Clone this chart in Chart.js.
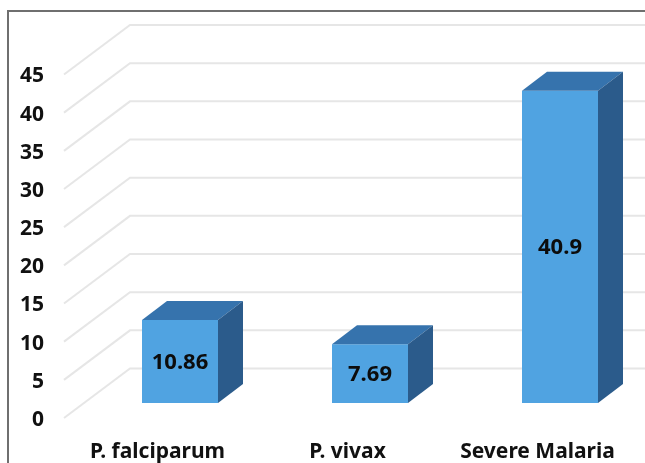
<!DOCTYPE html>
<html>
<head>
<meta charset="utf-8">
<style>
html,body{margin:0;padding:0;background:#fff;}
#wrap{position:relative;width:645px;height:463px;}
</style>
<script src="https://cdn.jsdelivr.net/npm/chart.js@4"></script>
</head>
<body>
<div id="wrap"><canvas id="c" width="645" height="463"></canvas></div>
<script>
const categories = ["P. falciparum", "P. vivax", "Severe Malaria"];
const values = [10.86, 7.69, 40.9];
const valueLabels = ["10.86", "7.69", "40.9"];
const yMax = 45;
const yStep = 5;

const FONT = '"Noto Sans", sans-serif';
const COL_FRONT = "#50a3e1", COL_TOP = "#3673ad", COL_SIDE = "#2b5b8b";
const FLOOR_DX = 66, FLOOR_DY = 49.5;    // wall depth
const BAR_DX = 25, BAR_DY = 19;          // bar depth
const LABEL_DY = 2;                      // tick text sits this far below its grid line
const SHIFT_X = 22.5, SHIFT_Y = -15 - LABEL_DY; // bar offset on the floor

const scene = {
  id: "scene",
  beforeDraw(chart) {
    const { ctx, scales: { y } } = chart;
    ctx.save();
    ctx.fillStyle = "#fff";
    ctx.fillRect(0, 0, chart.width, chart.height);
    // frame
    ctx.strokeStyle = "#6f6f6f";
    ctx.lineWidth = 2;
    ctx.beginPath();
    ctx.moveTo(8, 463);
    ctx.lineTo(8, 11);
    ctx.lineTo(645, 11);
    ctx.stroke();
    // walls
    ctx.strokeStyle = "#e6e6e6";
    ctx.lineWidth = 2;
    y.ticks.forEach(t => {
      const p = y.getPixelForValue(t.value) - LABEL_DY;
      ctx.beginPath();
      ctx.moveTo(64, p);
      ctx.lineTo(64 + FLOOR_DX, p - FLOOR_DY);
      ctx.lineTo(645, p - FLOOR_DY);
      ctx.stroke();
    });
    ctx.restore();
  },
  beforeDatasetsDraw(chart) {
    chart.ctx.save();
    chart.ctx.translate(SHIFT_X, SHIFT_Y);
  },
  afterDatasetsDraw(chart) {
    const ctx = chart.ctx;
    chart.getDatasetMeta(0).data.forEach((bar, i) => {
      const l = bar.x - bar.width / 2, r = bar.x + bar.width / 2;
      const t = bar.y, b = bar.base;
      ctx.fillStyle = COL_TOP;
      ctx.beginPath();
      ctx.moveTo(l, t);
      ctx.lineTo(l + BAR_DX, t - BAR_DY);
      ctx.lineTo(r + BAR_DX, t - BAR_DY);
      ctx.lineTo(r, t);
      ctx.closePath();
      ctx.fill();
      ctx.fillStyle = COL_SIDE;
      ctx.beginPath();
      ctx.moveTo(r, t);
      ctx.lineTo(r + BAR_DX, t - BAR_DY);
      ctx.lineTo(r + BAR_DX, b - BAR_DY);
      ctx.lineTo(r, b);
      ctx.closePath();
      ctx.fill();
      ctx.fillStyle = "#0c0c0c";
      ctx.font = "bold 22px " + FONT;
      ctx.textAlign = "center";
      ctx.textBaseline = "middle";
      ctx.fillText(valueLabels[i], bar.x, (t + b) / 2 + 1);
    });
    ctx.restore();
  }
};

new Chart(document.getElementById("c"), {
  type: "bar",
  data: {
    labels: categories,
    datasets: [{
      data: values,
      backgroundColor: COL_FRONT,
      borderWidth: 0,
      barPercentage: 0.4,
      categoryPercentage: 1,
      clip: false
    }]
  },
  options: {
    responsive: false,
    animation: false,
    devicePixelRatio: 1,
    layout: { padding: { top: 76.5, right: 12.5, left: 0, bottom: 0 } },
    plugins: { legend: { display: false }, tooltip: { enabled: false } },
    scales: {
      x: {
        grid: { display: false, drawTicks: false },
        border: { display: false },
        afterFit(s) { s.height = 43; },
        ticks: { color: "#111", font: { family: FONT, weight: "bold", size: 21 }, padding: 19, maxRotation: 0 }
      },
      y: {
        min: 0, max: yMax,
        grid: { display: false, drawTicks: false },
        border: { display: false },
        afterFit(s) { s.width = 62.5; },
        ticks: { stepSize: yStep, color: "#111", font: { family: FONT, weight: "bold", size: 21 }, padding: 18.5 }
      }
    }
  },
  plugins: [scene]
});
</script>
</body>
</html>
